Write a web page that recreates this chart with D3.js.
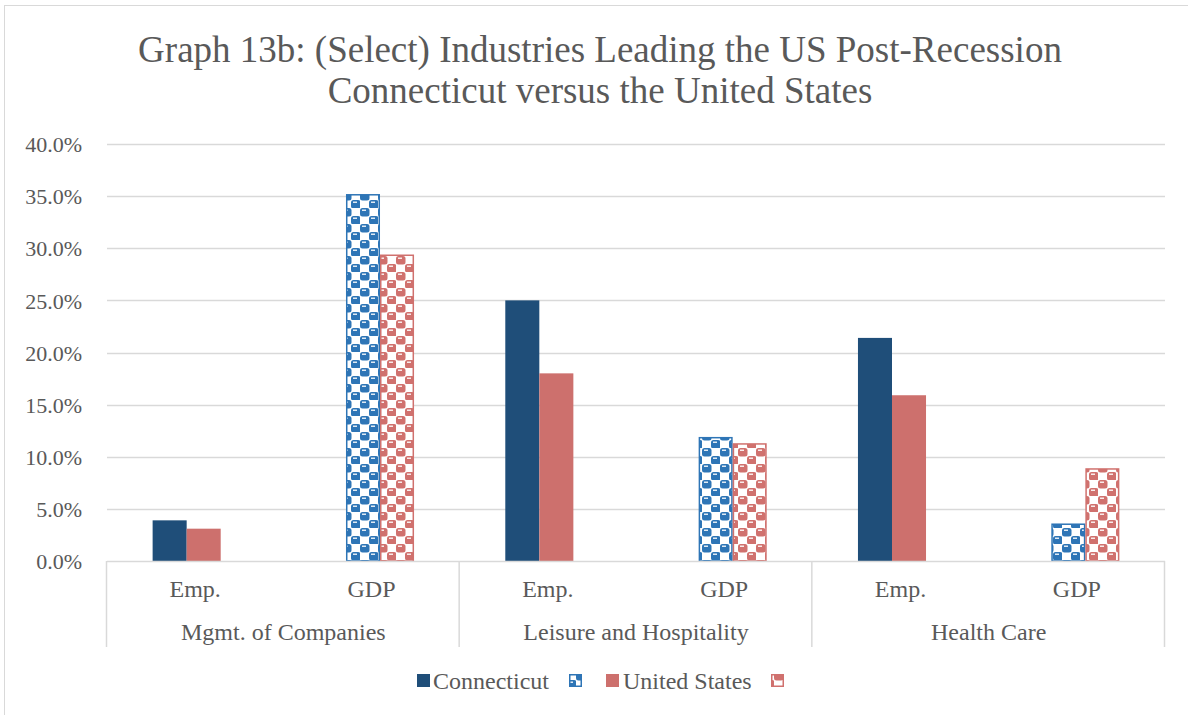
<!DOCTYPE html>
<html>
<head>
<meta charset="utf-8">
<script src="https://cdn.jsdelivr.net/npm/d3@7/dist/d3.min.js"></script>
<style>
  html, body { margin: 0; padding: 0; background: #fff; }
  svg { display: block; }
</style>
</head>
<body>
<svg id="chart" width="1188" height="715"></svg>
<script>
// ---- data ----
const categories = ["Emp.", "GDP", "Emp.", "GDP", "Emp.", "GDP"];
const groups = ["Mgmt. of Companies", "Leisure and Hospitality", "Health Care"];
const seriesNames = ["Connecticut", "", "United States", ""];
const ctEmp = [3.9, null, 25.0, null, 21.4, null];
const ctGdp = [null, 35.2, null, 11.9, null, 3.6];
const usEmp = [3.1, null, 18.0, null, 15.9, null];
const usGdp = [null, 29.4, null, 11.3, null, 8.9];
const yTicks = [0, 5, 10, 15, 20, 25, 30, 35, 40];
const titleLines = ["Graph 13b: (Select) Industries Leading the US Post-Recession",
                    "Connecticut versus the United States"];

(function () {
const FONT = '"Liberation Serif", "Times New Roman", serif';
const TXT = "#595959";
const series = [
  { name: seriesNames[0], values: ctEmp, color: "#1F4E79", pattern: null },
  { name: seriesNames[1], values: ctGdp, color: "#2E75B6", pattern: "patBlue" },
  { name: seriesNames[2], values: usEmp, color: "#CD706D", pattern: null },
  { name: seriesNames[3], values: usGdp, color: "#D0716E", pattern: "patRed" }
];

const svg = d3.select("#chart");
const W = 1188, H = 715;

// patterns (checkerboard of rounded cells)
const defs = svg.append("defs");
function makePattern(id, color) {
  const p = defs.append("pattern").attr("id", id)
    .attr("patternUnits", "userSpaceOnUse")
    .attr("width", 18).attr("height", 16);
  p.append("rect").attr("width", 18).attr("height", 16).attr("fill", "#fff");
  [[0, 0], [9, 8]].forEach(([px, py]) => {
    p.append("rect").attr("x", px).attr("y", py)
      .attr("width", 9.5).attr("height", 8.5).attr("rx", 2.5).attr("fill", color);
    p.append("rect").attr("x", px + 2).attr("y", py + 1.5)
      .attr("width", 4).attr("height", 1.5).attr("fill", "#fff").attr("opacity", 0.85);
  });
  return p;
}
makePattern("patBlue", "#2E75B6");
makePattern("patRed", "#D0716E");

// chart border
svg.append("rect").attr("x", 4.5).attr("y", 5.5).attr("width", W + 10).attr("height", H + 10)
  .attr("fill", "none").attr("stroke", "#D9D9D9").attr("stroke-width", 1);

// title
svg.append("text").attr("x", 600).attr("text-anchor", "middle")
  .style("font-family", FONT).style("font-size", "37px").attr("fill", TXT)
  .selectAll("tspan").data(titleLines).join("tspan")
  .attr("x", 600).attr("y", (d, i) => 62 + i * 41).text(d => d);

const pLeft = 107, pRight = 1165, pTop = 144, pBottom = 561;

const y = d3.scaleLinear().domain([0, 40]).range([pBottom, pTop]);
const x = d3.scaleBand().domain(d3.range(categories.length)).range([pLeft, pRight])
  .paddingInner(0).paddingOuter(0);
const bw = x.bandwidth() * 0.193;

// gridlines
svg.append("g").selectAll("line").data(yTicks.filter(t => t > 0)).join("line")
  .attr("x1", pLeft).attr("x2", pRight)
  .attr("y1", d => Math.round(y(d)) + 0.5).attr("y2", d => Math.round(y(d)) + 0.5)
  .attr("stroke", "#D9D9D9").attr("stroke-width", 1.5);

// y axis labels
const yAxis = d3.axisLeft(y).tickValues(yTicks).tickSize(0).tickPadding(0)
  .tickFormat(d => d3.format(".1f")(d) + "%");
const yg = svg.append("g").attr("transform", `translate(${82},0)`).call(yAxis);
yg.select(".domain").remove();
yg.selectAll("text").style("font-size", "22px").attr("fill", TXT)
  .style("font-family", FONT).attr("dy", "0.35em");

// bars
series.forEach((s, si) => {
  const off = (si - 1.5) * bw / 2 - bw / 2;
  const inset = s.pattern ? 0.75 : 0;
  svg.append("g").selectAll("rect")
    .data(s.values.map((v, i) => ({ v, i })).filter(d => d.v != null))
    .join("rect")
    .attr("x", d => x(d.i) + x.bandwidth() / 2 + off + inset)
    .attr("y", d => y(d.v) + inset)
    .attr("width", bw - 2 * inset)
    .attr("height", d => y(0) - y(d.v) - inset)
    .attr("fill", s.pattern ? `url(#${s.pattern})` : s.color)
    .attr("stroke", s.pattern ? s.color : "none")
    .attr("stroke-width", 1.5);
});

// category axis
const axisG = svg.append("g");
axisG.append("line").attr("x1", pLeft).attr("x2", pRight).attr("y1", pBottom + 0.5).attr("y2", pBottom + 0.5)
  .attr("stroke", "#D9D9D9").attr("stroke-width", 1.5);
const sepX = d3.range(groups.length + 1).map(g => g === groups.length ? pRight : x(g * 2));
axisG.selectAll("line.sep").data(sepX).join("line").attr("class", "sep")
  .attr("x1", d => d - 0.5).attr("x2", d => d - 0.5).attr("y1", pBottom).attr("y2", 647)
  .attr("stroke", "#D9D9D9").attr("stroke-width", 1.5);
axisG.selectAll("text.cat").data(categories).join("text").attr("class", "cat")
  .attr("x", (d, i) => x(i) + x.bandwidth() / 2).attr("y", 597)
  .attr("text-anchor", "middle").style("font-family", FONT).style("font-size", "24px")
  .attr("fill", TXT).text(d => d);
axisG.selectAll("text.grp").data(groups).join("text").attr("class", "grp")
  .attr("x", (d, i) => (x(i * 2) + x(i * 2 + 1) + x.bandwidth()) / 2).attr("y", 640)
  .attr("text-anchor", "middle").style("font-family", FONT).style("font-size", "24px")
  .attr("fill", TXT).text(d => d);

// legend
const legendItems = [
  { sx: 417, tx: 433, s: series[0] },
  { sx: 569, tx: null, s: series[1] },
  { sx: 606, tx: 623, s: series[2] },
  { sx: 771, tx: null, s: series[3] }
];
const lg = svg.append("g");
legendItems.forEach(it => {
  const pat = it.s.pattern;
  lg.append("rect").attr("x", it.sx + (pat ? 0.75 : 0)).attr("y", 674 + (pat ? 0.75 : 0))
    .attr("width", pat ? 11.5 : 13).attr("height", pat ? 11.5 : 13)
    .attr("fill", pat ? `url(#${pat})` : it.s.color)
    .attr("stroke", pat ? it.s.color : "none").attr("stroke-width", 1.5);
  if (it.tx != null) {
    lg.append("text").attr("x", it.tx).attr("y", 689).style("font-family", FONT)
      .style("font-size", "24px").attr("fill", TXT).text(it.s.name);
  }
});
})();
</script>
</body>
</html>
